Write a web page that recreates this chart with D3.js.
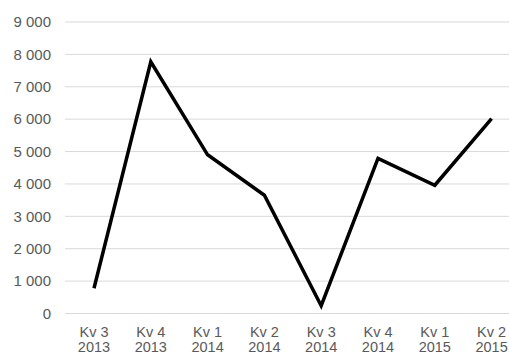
<!DOCTYPE html>
<html><head><meta charset="utf-8">
<script src="https://cdn.jsdelivr.net/npm/d3@7"></script>
<style>body{margin:0;background:#fff}svg{display:block}</style>
</head><body>
<script>
const categories = ["Kv 3|2013","Kv 4|2013","Kv 1|2014","Kv 2|2014","Kv 3|2014","Kv 4|2014","Kv 1|2015","Kv 2|2015"];
const values = [780, 7770, 4900, 3650, 240, 4790, 3960, 6020];
const yTicks = [0,1000,2000,3000,4000,5000,6000,7000,8000,9000];

const W = 509, H = 356;
const svg = d3.select("body").append("svg").attr("width", W).attr("height", H);
const x = d3.scaleBand().domain(categories).range([65.6, 520]);
const y = d3.scaleLinear().domain([0, 9000]).range([313.5, 22]);
const fmt = v => d3.format(",")(v).replace(/,/g, " ");
const FONT = "Liberation Sans, Arial, Helvetica, sans-serif";

svg.append("g").selectAll("line").data(yTicks).join("line")
  .attr("x1", 65).attr("x2", 520)
  .attr("y1", d => y(d)).attr("y2", d => y(d))
  .attr("stroke", "#d9d9d9").attr("stroke-width", 1);

svg.append("g").selectAll("text").data(yTicks).join("text")
  .attr("x", 51).attr("y", d => y(d)).attr("dy", "0.35em")
  .attr("text-anchor", "end")
  .attr("font-family", FONT)
  .attr("font-size", 15).attr("fill", "#595959")
  .text(fmt);

const xl = svg.append("g").selectAll("text").data(categories).join("text")
  .attr("text-anchor", "middle")
  .attr("font-family", FONT)
  .attr("font-size", 14.5).attr("fill", "#595959");
xl.each(function(d){
  const t = d3.select(this), parts = d.split("|"), cx = x(d) + x.bandwidth()/2;
  t.append("tspan").attr("x", cx).attr("y", 337).text(parts[0]);
  t.append("tspan").attr("x", cx).attr("y", 352).text(parts[1]);
});

const line = d3.line().x((d,i) => x(categories[i]) + x.bandwidth()/2).y(d => y(d));
svg.append("path").datum(values).attr("d", line)
  .attr("fill", "none").attr("stroke", "#000").attr("stroke-width", 3.5)
  .attr("stroke-linejoin", "miter");
</script>
</body></html>
